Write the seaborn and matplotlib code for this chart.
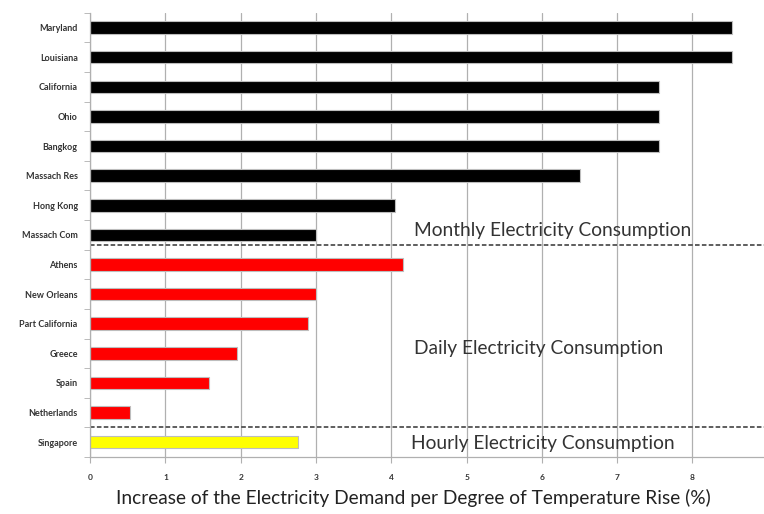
import matplotlib.pyplot as plt
import seaborn as sns
import pandas as pd

# values
regions = ['Maryland', 'Louisiana', 'California', 'Ohio', 'Bangkog', 'Massach Res',
           'Hong Kong', 'Massach Com', 'Athens', 'New Orleans', 'Part California',
           'Greece', 'Spain', 'Netherlands', 'Singapore']
increase = [8.53, 8.53, 7.56, 7.56, 7.56, 6.51, 4.05, 3.0, 4.15, 3.0, 2.9,
            1.95, 1.58, 0.53, 2.76]
groups = ['Monthly'] * 8 + ['Daily'] * 6 + ['Hourly']
group_colors = {'Monthly': '#000000', 'Daily': '#ff0000', 'Hourly': '#ffff00'}
group_labels = ['Monthly Electricity Consumption', 'Daily Electricity Consumption',
                'Hourly Electricity Consumption']

df = pd.DataFrame({'region': regions, 'increase': increase, 'group': groups})

sns.set_style('white')
plt.rcParams['font.family'] = ['Lato', 'DejaVu Sans']

fig = plt.figure(figsize=(7.64, 5.14), dpi=100)
ax = fig.add_axes([0.118, 0.111, 0.882, 0.864])

palette = [group_colors[g] for g in groups]
sns.barplot(data=df, x='increase', y='region', hue='region', palette=palette,
            width=0.42, edgecolor='#bdbdbd', linewidth=0.8, legend=False,
            saturation=1, ax=ax)

ax.set_xlim(0, 8.95)
ax.set_ylim(14.5, -0.5)
ax.set_xticks(range(0, 9))
ax.xaxis.grid(True, color='#b0b0b0', linewidth=0.9)
ax.set_axisbelow(True)
for s in ['top', 'right']:
    ax.spines[s].set_visible(False)
for s in ['left', 'bottom']:
    ax.spines[s].set_color('#b0b0b0')
    ax.spines[s].set_linewidth(0.9)

# category ticks between the bars, like the original
ax.set_yticks([i + 0.5 for i in range(-1, 15)], minor=True)
ax.tick_params(axis='y', which='minor', length=4, color='#b0b0b0', left=True)
ax.tick_params(axis='y', which='major', length=0, labelsize=6.5, pad=9)
ax.tick_params(axis='x', length=4, color='#b0b0b0', bottom=True, labelsize=6, pad=8)
for lbl in ax.get_yticklabels() + ax.get_xticklabels():
    lbl.set_fontweight('bold')
    lbl.set_color('#333333')

# group separators
for ypos in [7.35, 13.5]:
    ax.axhline(ypos, color='#333333', linestyle=(0, (3, 1.5)), linewidth=1.1)

ax.text(4.3, 6.85, group_labels[0], fontsize=13.8, color='#333333', va='center')
ax.text(4.3, 10.85, group_labels[1], fontsize=13.8, color='#333333', va='center')
ax.text(4.26, 14.05, group_labels[2], fontsize=13.8, color='#333333', va='center')

ax.set_ylabel('')
ax.set_xlabel('Increase of the Electricity Demand per Degree of Temperature Rise (%)',
              fontsize=13.8, color='#222222')
ax.xaxis.set_label_coords(0.479, -0.072)

fig.savefig('out.png', dpi=100)
